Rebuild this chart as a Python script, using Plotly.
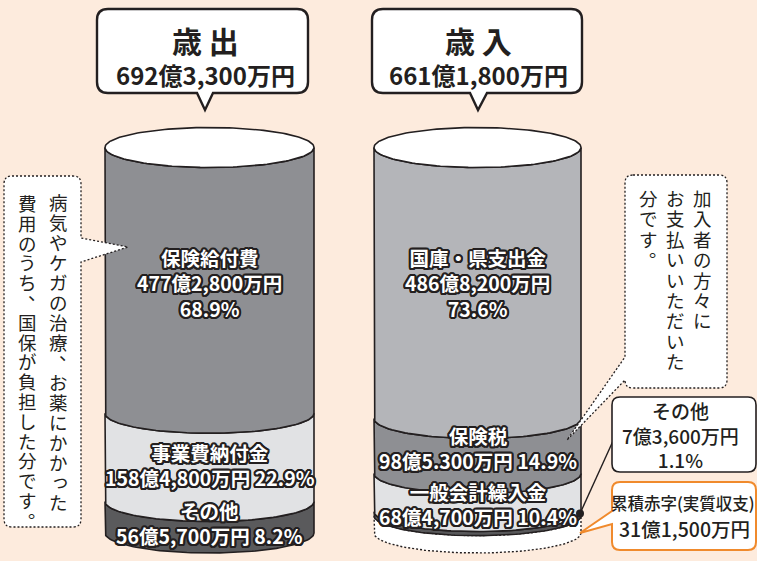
import numpy as np
import plotly.graph_objects as go

# ---------------- data (億円) ----------------
expense_title = "歳 出"
expense_total_text = "692億3,300万円"
expense_labels = ["保険給付費", "事業費納付金", "その他"]
expense_values = [477.28, 158.48, 56.57]
expense_amounts = ["477億2,800万円", "158億4,800万円", "56億5,700万円"]
expense_pcts = ["68.9%", "22.9%", "8.2%"]

revenue_title = "歳 入"
revenue_total_text = "661億1,800万円"
revenue_labels = ["国庫・県支出金", "保険税", "一般会計繰入金", "その他"]
revenue_values = [486.82, 98.53, 68.47, 7.36]
revenue_amounts = ["486億8,200万円", "98億5.300万円", "68億4,700万円", "7億3,600万円"]
revenue_pcts = ["73.6%", "14.9%", "10.4%", "1.1%"]

deficit_label = "累積赤字(実質収支)"
deficit_value = 31.15
deficit_amount = "31億1,500万円"

note_left = ["病気やケガの治療、お薬にかかった", "費用のうち、国保が負担した分です。"]
note_right = ["加入者の方々に", "お支払いいただいた", "分です。"]

# ---------------- layout constants ----------------
W, H = 757, 561
BG = "#fdebdd"
INK = "#231f20"
FONT = "Noto Sans CJK JP"
Y0_PX = 533.0           # pixel row of value 0
PX_PER = 385.5 / 692.33  # pixels per 億円
YMIN = -(H - Y0_PX) / PX_PER
YMAX = Y0_PX / PX_PER
RY = 20.0 / PX_PER       # ellipse half-height in value units

L_XC, L_RX = 209.5, 104.5
R_XC, R_RX = 477.5, 103.5

exp_colors = ["#8e8f93", "#e1e2e4", "#5a5a5c"]
rev_colors = ["#b4b5b9", "#8e8f93", "#e1e2e4", "#58585a"]

fig = go.Figure()


def band(xc, rx, lo, hi, n=80):
    t = np.linspace(np.pi, 0, n)
    lx = xc + rx * np.cos(t)
    ly = lo - RY * np.sin(t)
    t2 = np.linspace(0, np.pi, n)
    ux = xc + rx * np.cos(t2)
    uy = hi - RY * np.sin(t2)
    xs = np.concatenate([[xc - rx], lx, [xc + rx], ux])
    ys = np.concatenate([[hi], ly, [hi], uy])
    return xs, ys


def add_band(xc, rx, lo, hi, color, dash=None, lw=1.6):
    xs, ys = band(xc, rx, lo, hi)
    fig.add_trace(go.Scatter(x=xs, y=ys, mode="lines", fill="toself", fillcolor=color,
                             line=dict(color=INK, width=lw, dash=dash),
                             hoverinfo="skip", showlegend=False))


def add_top(xc, rx, v):
    t = np.linspace(0, 2 * np.pi, 160)
    fig.add_trace(go.Scatter(x=xc + rx * np.cos(t), y=v + RY * np.sin(t), mode="lines",
                             fill="toself", fillcolor="white", line=dict(color=INK, width=1.6),
                             hoverinfo="skip", showlegend=False))


# left cylinder (bottom -> top)
lo = 0.0
bounds_exp = []
for val, col in list(zip(expense_values, exp_colors))[::-1]:
    add_band(L_XC, L_RX, lo, lo + val, col)
    bounds_exp.append((lo, lo + val))
    lo += val
add_top(L_XC, L_RX, lo)

# right cylinder: deficit (dashed), then segments bottom -> top
add_band(R_XC, R_RX, 0.0, deficit_value, "white", dash="2px,2px", lw=1.4)
lo = deficit_value
bounds_rev = []
for val, col in list(zip(revenue_values, rev_colors))[::-1]:
    add_band(R_XC, R_RX, lo, lo + val, col)
    bounds_rev.append((lo, lo + val))
    lo += val
add_top(R_XC, R_RX, lo)


def to_px(v):
    return Y0_PX - v * PX_PER


# dot on the small "その他" band
sonota_lo, sonota_hi = bounds_rev[0]
dot_y = to_px((sonota_lo + sonota_hi) / 2)

shapes = []


def rr_path(x0, y0, x1, y1, r):
    return (f"M{x0+r},{y0} H{x1-r} Q{x1},{y0} {x1},{y0+r} V{y1-r} Q{x1},{y1} {x1-r},{y1} "
            f"H{x0+r} Q{x0},{y1} {x0},{y1-r} V{y0+r} Q{x0},{y0} {x0+r},{y0} Z")


def bubble_down(x0, y0, x1, y1, r, tl, tr, tx, ty):
    return (f"M{x0+r},{y0} H{x1-r} Q{x1},{y0} {x1},{y0+r} V{y1-r} Q{x1},{y1} {x1-r},{y1} "
            f"H{tr} L{tx},{ty} L{tl},{y1} "
            f"H{x0+r} Q{x0},{y1} {x0},{y1-r} V{y0+r} Q{x0},{y0} {x0+r},{y0} Z")


# header bubbles
shapes.append(dict(type="path", xref="x", yref="y2",
                   path=bubble_down(97, 9, 308, 93, 11, 197, 213, 205, 110),
                   fillcolor="white", line=dict(color=INK, width=2.4), layer="above"))
shapes.append(dict(type="path", xref="x", yref="y2",
                   path=bubble_down(372, 9, 582, 93, 11, 470, 487, 478, 110),
                   fillcolor="white", line=dict(color=INK, width=2.4), layer="above"))

# left dashed note with tail to the right
x0, y0, x1, y1, r = 4, 176, 81, 527, 8
p = (f"M{x0+r},{y0} H{x1-r} Q{x1},{y0} {x1},{y0+r} V238 L128,247 L{x1},262 V{y1-r} "
     f"Q{x1},{y1} {x1-r},{y1} H{x0+r} Q{x0},{y1} {x0},{y1-r} V{y0+r} Q{x0},{y0} {x0+r},{y0} Z")
shapes.append(dict(type="path", xref="x", yref="y2", path=p, fillcolor="white",
                   line=dict(color=INK, width=1.3, dash="2px,2px"), layer="above"))

# right dashed note with tail to the lower left
x0, y0, x1, y1, r = 625, 175, 727, 388, 8
p = (f"M{x0+r},{y0} H{x1-r} Q{x1},{y0} {x1},{y0+r} V{y1-r} Q{x1},{y1} {x1-r},{y1} "
     f"H{x0+r} Q{x0},{y1} {x0},{y1-r} V380 L567,440 L{x0},357 V{y0+r} Q{x0},{y0} {x0+r},{y0} Z")
shapes.append(dict(type="path", xref="x", yref="y2", path=p, fillcolor="white",
                   line=dict(color=INK, width=1.3, dash="2px,2px"), layer="above"))

# connector for その他
shapes.append(dict(type="line", xref="x", yref="y2", x0=R_XC + R_RX - 1, y0=dot_y, x1=613, y1=441,
                   line=dict(color=INK, width=1.4), layer="above"))
# その他 box
shapes.append(dict(type="path", xref="x", yref="y2", path=rr_path(612, 397, 756, 472, 8),
                   fillcolor="white", line=dict(color=INK, width=1.6), layer="above"))

# orange deficit box with tail
ORANGE = "#f08a2c"
x0, y0, x1, y1, r = 612, 482, 756, 550, 8
p = (f"M{x0+r},{y0} H{x1-r} Q{x1},{y0} {x1},{y0+r} V{y1-r} Q{x1},{y1} {x1-r},{y1} "
     f"H{x0+r} Q{x0},{y1} {x0},{y1-r} V524 L580,533 L{x0},511 V{y0+r} Q{x0},{y0} {x0+r},{y0} Z")
shapes.append(dict(type="path", xref="x", yref="y2", path=p, fillcolor="white",
                   line=dict(color=ORANGE, width=2), layer="above"))

# dot marker
fig.add_trace(go.Scatter(x=[R_XC + R_RX - 1], y=[dot_y], yaxis="y2", mode="markers",
                         marker=dict(color=INK, size=8), hoverinfo="skip", showlegend=False))

# ---------------- text ----------------
ann = []
SH = ", ".join(f"{dx}px {dy}px 0 {INK}" for dx, dy in
               [(-2, 0), (2, 0), (0, -2), (0, 2), (-1.5, -1.5), (1.5, -1.5), (-1.5, 1.5), (1.5, 1.5),
                (-1, -2), (1, 2), (-2, 1), (2, -1), (-1, 2), (1, -2), (2, 1), (-2, -1)])


def label(x, y, text, size=19.5):
    ann.append(dict(x=x, y=y, xref="x", yref="y2", text=text, showarrow=False,
                    xanchor="center", yanchor="middle",
                    font=dict(family=FONT, size=size, color="white", weight="bold", shadow=SH)))


def plain(x, y, text, size=19, weight="normal", color=INK):
    ann.append(dict(x=x, y=y, xref="x", yref="y2", text=text, showarrow=False,
                    xanchor="center", yanchor="middle",
                    font=dict(family=FONT, size=size, color=color, weight=weight)))


# headers
plain(205, 40, expense_title, size=30, weight="bold")
plain(205, 74, expense_total_text, size=24, weight="bold")
plain(478, 40, revenue_title, size=30, weight="bold")
plain(478, 74, revenue_total_text, size=24, weight="bold")

# expense labels
label(L_XC, 283, f"{expense_labels[0]}<br>{expense_amounts[0]}<br>{expense_pcts[0]}")
label(L_XC, 465, f"{expense_labels[1]}<br>{expense_amounts[1]} {expense_pcts[1]}")
label(L_XC, 523, f"{expense_labels[2]}<br>{expense_amounts[2]} {expense_pcts[2]}")
# revenue labels
label(R_XC, 283, f"{revenue_labels[0]}<br>{revenue_amounts[0]}<br>{revenue_pcts[0]}")
label(R_XC, 448, f"{revenue_labels[1]}<br>{revenue_amounts[1]} {revenue_pcts[1]}")
label(R_XC, 504, f"{revenue_labels[2]}<br>{revenue_amounts[2]} {revenue_pcts[2]}")

# その他 box
plain(680, 435, f"{revenue_labels[3]}<br>{revenue_amounts[3]}<br>{revenue_pcts[3]}", size=19, weight=500)
# deficit box
plain(683, 503, deficit_label, size=16.5, weight=500)
plain(684, 528, deficit_amount, size=19.5, weight=500)


# vertical notes (tightly set, one character per cell as in the reference)
def vcol(x, y_start, step, text, size=18.5):
    for i, ch in enumerate(text):
        xs, ys = 0, 0
        if ch in "、。":
            xs, ys = 10, 10
        elif ch in "っ":
            xs, ys = 2, 2
        ann.append(dict(x=x, y=y_start + i * step, xref="x", yref="y2", text=ch, showarrow=False,
                        xanchor="center", yanchor="middle", xshift=xs, yshift=ys, borderpad=0,
                        font=dict(family=FONT, size=size, color=INK)))


vcol(58, 202, 20.0, note_left[0])
vcol(27, 203, 19.8, note_left[1])
vcol(702, 198, 20.4, note_right[0])
vcol(675, 198, 20.4, note_right[1])
vcol(648, 198, 20.4, note_right[2])

fig.update_layout(
    width=W, height=H, margin=dict(l=0, r=0, t=0, b=0),
    paper_bgcolor=BG, plot_bgcolor=BG, showlegend=False,
    xaxis=dict(range=[0, W], visible=False, fixedrange=True),
    yaxis=dict(range=[YMIN, YMAX], visible=False, fixedrange=True),
    yaxis2=dict(range=[H, 0], visible=False, overlaying="y", fixedrange=True),
    shapes=shapes, annotations=ann,
)

fig.write_html("out.html")
